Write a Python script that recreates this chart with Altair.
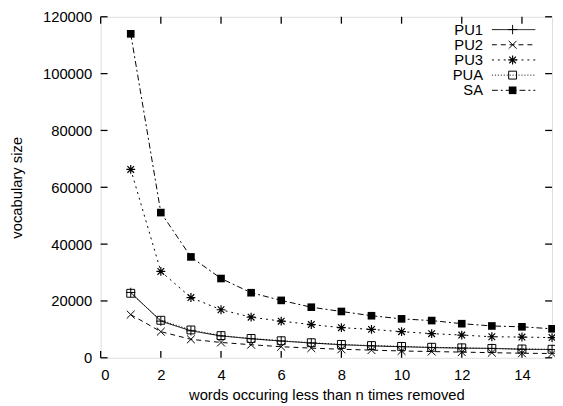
import altair as alt
import pandas as pd

# ---- data ----
n_removed = list(range(1, 16))
series_names = ["PU1", "PU2", "PU3", "PUA", "SA"]
pu1 = [23000, 12900, 9500, 7700, 6700, 5900, 5200, 4600, 4200, 3900, 3600, 3400, 3300, 3000, 2900]
pu2 = [15200, 9200, 6500, 5400, 4600, 3900, 3400, 3000, 2700, 2400, 2200, 2000, 1800, 1600, 1500]
pu3 = [66300, 30400, 21200, 16900, 14300, 12900, 11700, 10600, 10000, 9200, 8500, 8000, 7400, 7300, 7100]
pua = [22700, 13200, 9800, 7800, 6800, 6000, 5300, 4700, 4300, 4000, 3700, 3500, 3300, 3100, 3000]
sa = [114000, 51100, 35500, 27900, 22900, 20200, 17800, 16300, 14800, 13700, 13100, 12000, 11200, 10900, 10200]
values = {"PU1": pu1, "PU2": pu2, "PU3": pu3, "PUA": pua, "SA": sa}

x_ticks = [0, 2, 4, 6, 8, 10, 12, 14]
y_ticks = [0, 20000, 40000, 60000, 80000, 100000, 120000]

x_title = "words occuring less than n times removed"
y_title = "vocabulary size"

# ---- styles ----
FONT = "Liberation Sans"
FS = 15
W, H = 458, 346
TICK = 7

dash = {"PU1": [1, 0], "PU2": [5, 4], "PU3": [2, 4], "PUA": [1, 2], "SA": [6, 3, 2, 3]}
PLUS = "M-1,0L1,0M0,-1L0,1"
CROSS = "M-1,-1L1,1M-1,1L1,-1"
STAR = "M-1,0L1,0M0,-1L0,1M-0.75,-0.75L0.75,0.75M-0.75,0.75L0.75,-0.75"
marker = {
    "PU1": dict(shape=PLUS, filled=False, size=90, strokeWidth=1),
    "PU2": dict(shape=CROSS, filled=False, size=64, strokeWidth=1),
    "PU3": dict(shape=STAR, filled=False, size=81, strokeWidth=1.2),
    "PUA": dict(shape="square", filled=False, size=64, strokeWidth=1),
    "SA": dict(shape="square", filled=True, size=60, strokeWidth=0),
}

rows = []
for s in series_names:
    for n, v in zip(n_removed, values[s]):
        rows.append({"series": s, "n": n, "size": v})
df = pd.DataFrame(rows)

xscale = alt.Scale(domain=[0, 15], nice=False, zero=False)
yscale = alt.Scale(domain=[0, 120000], nice=False)

X = alt.X("n:Q", scale=xscale,
          axis=alt.Axis(values=x_ticks, ticks=False, domain=False, grid=False,
                        labelFont=FONT, labelFontSize=FS, labelColor="black",
                        labelPadding=10, title=x_title, titleFont=FONT,
                        titleFontSize=FS, titleFontWeight="normal", titleColor="black",
                        titleBaseline="alphabetic", titleY=42))
Y = alt.Y("size:Q", scale=yscale,
          axis=alt.Axis(values=y_ticks, ticks=False, domain=False, grid=False, format="d",
                        labelFont=FONT, labelFontSize=FS, labelColor="black",
                        labelPadding=9, title=y_title, titleFont=FONT,
                        titleFontSize=FS, titleFontWeight="normal", titleColor="black",
                        titleAngle=-90, titleBaseline="middle", titleAlign="center",
                        titleX=-85, titleY=H / 2))

base = alt.Chart(df)
lines = base.mark_line(color="black", strokeWidth=1).encode(
    x=X, y=Y, detail="series:N",
    strokeDash=alt.StrokeDash("series:N",
                              scale=alt.Scale(domain=series_names,
                                              range=[dash[s] for s in series_names]),
                              legend=None),
)

layers = [lines]
for s in series_names:
    m = marker[s]
    layers.append(
        alt.Chart(df[df["series"] == s]).mark_point(
            color="black", opacity=1, **m
        ).encode(x=alt.X("n:Q", scale=xscale), y=alt.Y("size:Q", scale=yscale))
    )

# inward ticks (all four sides)
xt = pd.DataFrame({"t": x_ticks})
yt = pd.DataFrame({"t": y_ticks})
tick_kw = dict(color="black", strokeWidth=1.3)
layers += [
    alt.Chart(xt).mark_rule(**tick_kw).encode(
        x=alt.X("t:Q", scale=xscale), y=alt.value(H - TICK), y2=alt.value(H)),
    alt.Chart(xt).mark_rule(**tick_kw).encode(
        x=alt.X("t:Q", scale=xscale), y=alt.value(0), y2=alt.value(TICK)),
    alt.Chart(yt).mark_rule(**tick_kw).encode(
        y=alt.Y("t:Q", scale=yscale), x=alt.value(0), x2=alt.value(TICK)),
    alt.Chart(yt).mark_rule(**tick_kw).encode(
        y=alt.Y("t:Q", scale=yscale), x=alt.value(W - TICK), x2=alt.value(W)),
]

# legend (top right, inside the frame)
leg_text_x, leg_line_x0, leg_line_x1, leg_mark_x = 388, 397, 441, 418
leg_y0, leg_dy = 13, 15.4
for i, s in enumerate(series_names):
    yy = leg_y0 + i * leg_dy
    one = pd.DataFrame({"series": [s]})
    layers.append(alt.Chart(one).mark_text(
        align="right", baseline="middle", font=FONT, fontSize=FS, color="black"
    ).encode(text="series:N", x=alt.value(leg_text_x), y=alt.value(yy)))
    layers.append(alt.Chart(one).mark_rule(
        color="black", strokeWidth=1, strokeDash=dash[s]
    ).encode(x=alt.value(leg_line_x0), x2=alt.value(leg_line_x1), y=alt.value(yy)))
    layers.append(alt.Chart(one).mark_point(
        color="black", opacity=1, **marker[s]
    ).encode(x=alt.value(leg_mark_x), y=alt.value(yy)))

chart = alt.layer(*layers).properties(
    width=W, height=H,
    padding={"left": 94, "top": 6, "right": 3, "bottom": 46},
    autosize=alt.AutoSizeParams(type="none"),
).configure_view(stroke="black", strokeWidth=1.6).configure(background="white")

chart.save("out.html", embed_options={"renderer": "svg", "actions": False})
